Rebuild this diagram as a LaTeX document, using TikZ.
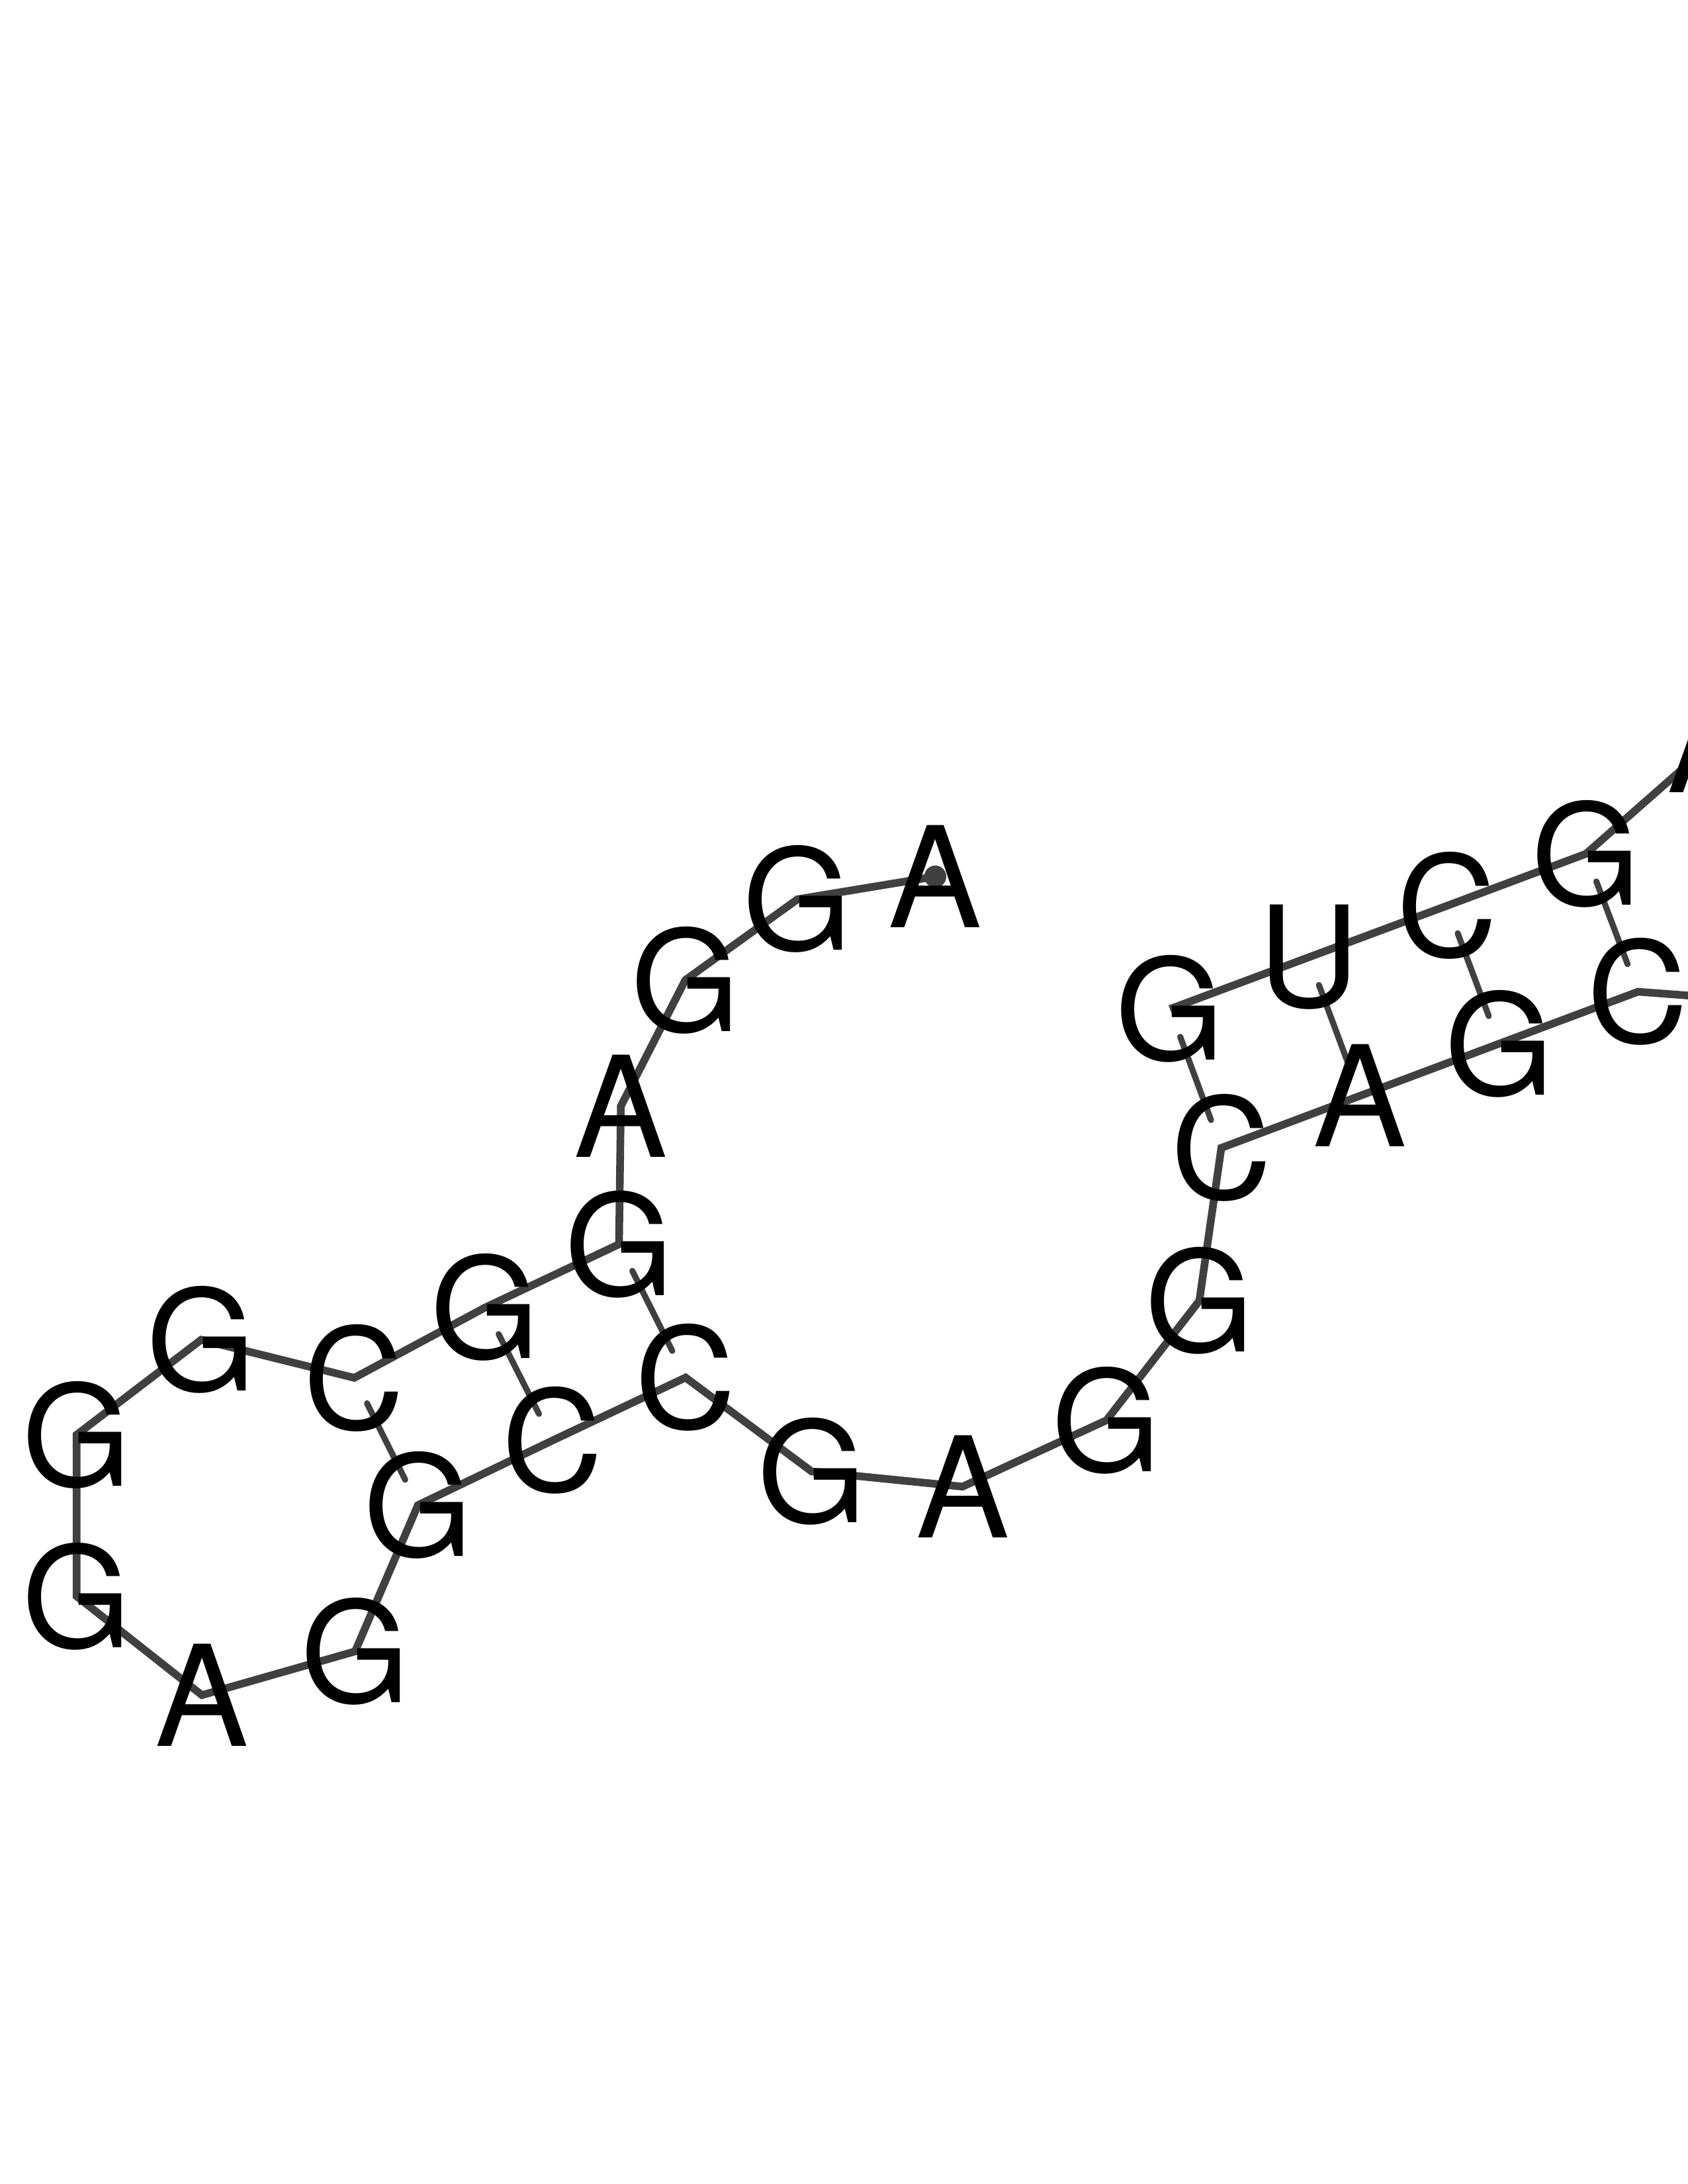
\documentclass[tikz,border=0pt]{standalone}
\usepackage{fontspec}
\setmainfont{TeX Gyre Heros}
\usetikzlibrary{calc,backgrounds}
\definecolor{backbone}{RGB}{64,64,64}

\begin{document}
\begin{tikzpicture}[x=0.178135mm, y=-0.178135mm]
    \tikzstyle{rna base} = [inner sep=0pt, font=\fontsize{51}{51}\selectfont, text=black]
    \tikzstyle{rna backbone} = [draw=backbone, line width=2.8pt]
    \tikzstyle{rna pair} = [draw=backbone, line width=2.2pt, line cap=round]
\useasboundingbox (0,0) rectangle (1212,1568);
\node[rna base] (1) at (671.6, 629.3) {A};
\node[rna base] (2) at (572.7, 645.6) {G};
\node[rna base] (3) at (492.1, 703.6) {G};
\node[rna base] (4) at (445.8, 794.2) {A};
\node[rna base] (5) at (444.5, 893.3) {G};
\node[rna base] (6) at (348.4, 938.7) {G};
\node[rna base] (7) at (254.4, 989.2) {C};
\node[rna base] (8) at (144.4, 961.9) {G};
\node[rna base] (9) at (55.0, 1030.1) {G};
\node[rna base] (10) at (55.0, 1146.0) {G};
\node[rna base] (11) at (145.0, 1217.0) {A};
\node[rna base] (12) at (255.0, 1185.6) {G};
\node[rna base] (13) at (300.1, 1080.6) {G};
\node[rna base] (14) at (396.7, 1034.2) {C};
\node[rna base] (15) at (492.3, 989.0) {C};
\node[rna base] (16) at (582.8, 1056.4) {G};
\node[rna base] (17) at (691.2, 1067.3) {A};
\node[rna base] (18) at (794.5, 1019.7) {G};
\node[rna base] (19) at (861.2, 933.9) {G};
\node[rna base] (20) at (877.0, 824.1) {C};
\node[rna base] (21) at (976.7, 786.7) {A};
\node[rna base] (22) at (1076.5, 749.3) {G};
\node[rna base] (23) at (1176.2, 712.0) {C};
\coordinate (24) at (1276.0, 719.5);
\node[rna base] (35) at (1230.8, 532.1) {A};
\node[rna base] (36) at (1138.8, 613.0) {G};
\node[rna base] (37) at (1039.3, 650.2) {C};
\node[rna base] (38) at (939.7, 687.3) {U};
\node[rna base] (39) at (840.1, 724.4) {G};
\begin{pgfonlayer}{background}
\clip (0,0) rectangle (1212,1568);
% 5' end marker
\fill[backbone] (1.center) circle (4pt);
% backbone
\draw[rna backbone] (1.center) -- (2.center) -- (3.center) -- (4.center) -- (5.center)
    -- (6.center) -- (7.center) -- (8.center) -- (9.center) -- (10.center) -- (11.center)
    -- (12.center) -- (13.center) -- (14.center) -- (15.center) -- (16.center) -- (17.center)
    -- (18.center) -- (19.center) -- (20.center) -- (21.center) -- (22.center) -- (23.center)
    -- (24);
\draw[rna backbone] (35.center) -- (36.center) -- (37.center) -- (38.center) -- (39.center);
% base pairs
\draw[rna pair] ($(5.center)!0.2!(15.center)$) -- ($(5.center)!0.8!(15.center)$);
\draw[rna pair] ($(6.center)!0.2!(14.center)$) -- ($(6.center)!0.8!(14.center)$);
\draw[rna pair] ($(7.center)!0.2!(13.center)$) -- ($(7.center)!0.8!(13.center)$);
\draw[rna pair] ($(39.center)!0.2!(20.center)$) -- ($(39.center)!0.8!(20.center)$);
\draw[rna pair] ($(38.center)!0.2!(21.center)$) -- ($(38.center)!0.8!(21.center)$);
\draw[rna pair] ($(37.center)!0.2!(22.center)$) -- ($(37.center)!0.8!(22.center)$);
\draw[rna pair] ($(36.center)!0.2!(23.center)$) -- ($(36.center)!0.8!(23.center)$);
\end{pgfonlayer}
\end{tikzpicture}
\end{document}
